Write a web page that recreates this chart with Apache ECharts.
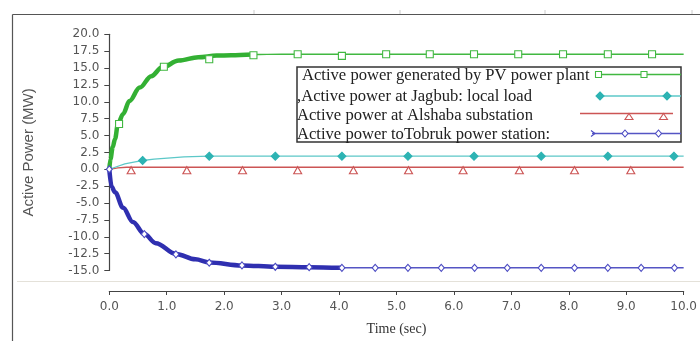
<!DOCTYPE html>
<html><head><meta charset="utf-8">
<script src="https://cdn.jsdelivr.net/npm/echarts@6/dist/echarts.min.js"></script>
<style>html,body{margin:0;padding:0;background:#fff}#c{width:700px;height:341px}</style>
</head><body><div id="c"></div>
<script>
// ---- data ----
const seriesNames = [
  'Active power generated by PV power plant',
  ',Active power at Jagbub: local load',
  'Active power at Alshaba substation',
  'Active power toTobruk power station:'
];
const xTicks = [0,1,2,3,4,5,6,7,8,9,10];
const yTicks = [-15,-12.5,-10,-7.5,-5,-2.5,0,2.5,5,7.5,10,12.5,15,17.5,20];

// PV power plant (curve + marker samples)
const tPV = [0, 0.02, 0.06, 0.10, 0.15, 0.24, 0.35, 0.53, 0.73, 0.92, 1.21, 1.55, 1.87, 2.12, 2.50, 3.00, 10.0];
const pPV = [0, 1.5, 3.3, 4.5, 6.7, 8.2, 10.1, 12.1, 13.8, 15.1, 16.1, 16.6, 16.85, 16.9, 17.0, 17.05, 17.05];
const tPVm = [0.17, 0.95, 1.74, 2.51, 3.28, 4.05, 4.82, 5.58, 6.35, 7.12, 7.90, 8.68, 9.45];
const pPVm = [6.7, 15.2, 16.3, 16.9, 17.05, 16.8, 17.05, 17.05, 17.05, 17.05, 17.05, 17.05, 17.05];

// Jagbub local load
const tJ = [0, 0.10, 0.27, 0.45, 0.58, 0.78, 1.07, 1.30, 1.74, 10.0];
const pJ = [0, 0.3, 0.8, 1.1, 1.3, 1.5, 1.7, 1.85, 1.94, 1.94];
const tJm = [0.58, 1.74, 2.89, 4.05, 5.20, 6.35, 7.52, 8.68, 9.83];
const pJm = [1.3, 1.94, 1.94, 1.94, 1.94, 1.94, 1.94, 1.94, 1.94];

// Alshaba substation
const tA = [0, 0.15, 0.30, 10.0];
const pA = [0, 0.2, 0.3, 0.3];
const tAm = [0.38, 1.35, 2.32, 3.28, 4.25, 5.21, 6.16, 7.14, 8.10, 9.08];
const pAm = [0.3, 0.3, 0.3, 0.3, 0.3, 0.3, 0.3, 0.3, 0.3, 0.3];

// Tobruk power station
const tT = [0, 0.04, 0.10, 0.24, 0.41, 0.61, 0.81, 1.16, 1.50, 1.74, 2.31, 2.89, 3.48, 4.05, 10.0];
const pT = [0, -2.6, -3.4, -5.7, -7.8, -9.6, -10.95, -12.55, -13.35, -13.8, -14.25, -14.45, -14.5, -14.6, -14.6];
const tTm = [0, 0.61, 1.16, 1.74, 2.31, 2.89, 3.48, 4.05, 4.63, 5.20, 5.78, 6.36, 6.93, 7.52, 8.10, 8.68, 9.26, 9.84];
const pTm = [0, -9.6, -12.6, -13.85, -14.25, -14.45, -14.5, -14.6, -14.6, -14.6, -14.6, -14.6, -14.6, -14.6, -14.6, -14.6, -14.6, -14.6];

// ---- build ----
const zip = (t, v) => t.map((x, i) => [x, v[i]]);
const upTo = (t, v, lim) => zip(t, v).filter(p => p[0] <= lim);

const C = {
  green: '#41b841', greenThick: '#33b033',
  cyan: '#5cc8c8', cyanMark: '#2db3b3',
  red: '#cc5555',
  blue: '#5555c4', blueThick: '#2f2fb0', blueMark: '#4a4ac2'
};

function lineS(data, color, width, smooth) {
  return { type: 'line', data, showSymbol: false, symbol: 'none', smooth: smooth ? 0.35 : false,
    smoothMonotone: 'x', lineStyle: { color, width }, clip: false, z: 2, silent: true };
}
function markS(data, symbol, size, fill, stroke, offset) {
  return { type: 'scatter', data, symbol, symbolSize: size, symbolOffset: offset || [0, 0],
    itemStyle: { color: fill, borderColor: stroke, borderWidth: 1.1, opacity: 1 }, clip: false, z: 4, silent: true };
}

const series = [
  lineS(zip(tA, pA), C.red, 1.3, false),
  lineS(zip(tJ, pJ), C.cyan, 1.3, false),
  lineS(zip(tPV, pPV), C.green, 1.4, true),
  lineS(upTo(tPV, pPV, 2.6), C.greenThick, 4.5, true),
  lineS(zip(tT, pT), C.blue, 1.4, true),
  lineS(upTo(tT, pT, 4.1), C.blueThick, 4.5, true),
  markS(zip(tAm, pAm), 'triangle', [8, 7], '#fff', C.red, [0, 3]),
  markS(zip(tJm, pJm), 'diamond', [8, 8], C.cyanMark, C.cyanMark),
  markS(zip(tPVm, pPVm), 'rect', [7, 7], '#fff', C.green),
  markS(zip(tTm, pTm), 'diamond', [6, 7], '#fff', C.blueMark)
];

// legend drawn as graphic (text + line samples)
const LX = 297, LY = 67, LW = 384, LH = 75;
const rows = [75, 96, 115, 133.5];
const textX = [302, 297, 297, 297];
const font = '16.6px "Liberation Serif", "Times New Roman", serif';
const g = [];
g.push({ type: 'rect', shape: { x: LX, y: LY, width: LW, height: LH }, style: { fill: '#fff', stroke: '#333', lineWidth: 1.5 }, z: 10 });
seriesNames.forEach((n, i) => {
  g.push({ type: 'text', style: { text: n, x: textX[i], y: rows[i] + 1, font, fill: '#222', verticalAlign: 'middle', align: 'left' }, z: 11 });
});
function sq(cx, cy, s, stroke) { return { type: 'rect', shape: { x: cx - s / 2, y: cy - s / 2, width: s, height: s }, style: { fill: '#fff', stroke, lineWidth: 1.1 }, z: 12 }; }
function dia(cx, cy, w, h, fill, stroke) { return { type: 'polygon', shape: { points: [[cx, cy - h / 2], [cx + w / 2, cy], [cx, cy + h / 2], [cx - w / 2, cy]] }, style: { fill, stroke, lineWidth: 1.1 }, z: 12 }; }
function tri(cx, cy, w, h, stroke) { return { type: 'polygon', shape: { points: [[cx, cy - h / 2], [cx + w / 2, cy + h / 2], [cx - w / 2, cy + h / 2]] }, style: { fill: '#fff', stroke, lineWidth: 1.1 }, z: 12 }; }
function ln(x1, x2, y, stroke) { return { type: 'line', shape: { x1, y1: y, x2, y2: y }, style: { stroke, lineWidth: 1.3 }, z: 11 }; }
// PV
g.push(ln(596, 681, 74.5, C.green), sq(598.5, 74.5, 6, C.green), sq(644, 74.5, 6, C.green));
// Jagbub
g.push(ln(600, 681, 96, C.cyan), dia(600, 96, 8, 8, C.cyanMark, C.cyanMark), dia(667, 96, 8, 8, C.cyanMark, C.cyanMark));
// Alshaba
g.push(ln(580, 673, 113.5, C.red), tri(629, 116.5, 8, 6, C.red), tri(663.5, 116.5, 8, 6, C.red));
// Tobruk
g.push(ln(592, 681, 133.5, C.blue),
  { type: 'polyline', shape: { points: [[591, 130.5], [595, 133.5], [591, 136.5]] }, style: { stroke: C.blueMark, lineWidth: 1.1, fill: null }, z: 12 },
  dia(625, 133.5, 6, 7, '#fff', C.blueMark), dia(658.5, 133.5, 6, 7, '#fff', C.blueMark));

// outer frame
g.push({ type: 'line', shape: { x1: 12.5, y1: 14.5, x2: 12.5, y2: 341 }, style: { stroke: '#555', lineWidth: 1.2 }, z: 1 });
g.push({ type: 'line', shape: { x1: 12.5, y1: 14.5, x2: 700, y2: 14.5 }, style: { stroke: '#555', lineWidth: 1.2 }, z: 1 });
[254, 400, 545, 692].forEach(x => g.push({ type: 'line', shape: { x1: x, y1: 10, x2: x, y2: 14 }, style: { stroke: '#ccc', lineWidth: 1 }, z: 1 }));
g.push({ type: 'line', shape: { x1: 17, y1: 281.5, x2: 700, y2: 281.5 }, style: { stroke: '#e4e1d9', lineWidth: 1.2 }, z: 1 });

const chart = echarts.init(document.getElementById('c'), null, { renderer: 'canvas' });
chart.setOption({
  animation: false,
  backgroundColor: '#fff',
  grid: { left: 109.3, right: 7, top: 34.3, bottom: 68.3, containLabel: false },
  xAxis: {
    type: 'value', min: xTicks[0], max: xTicks[xTicks.length - 1], interval: 1, offset: 20.5,
    axisLine: { show: true, onZero: false, lineStyle: { color: '#444', width: 1.2 } },
    axisTick: { show: true, length: 4, lineStyle: { color: '#444' } },
    axisLabel: { margin: 10, color: '#555', fontSize: 12, fontFamily: 'DejaVu Sans', formatter: v => v.toFixed(1) },
    splitLine: { show: false },
    name: 'Time (sec)', nameLocation: 'middle', nameGap: 31,
    nameTextStyle: { color: '#333', fontSize: 14, fontFamily: '"Liberation Serif", serif' }
  },
  yAxis: {
    type: 'value', min: yTicks[0], max: yTicks[yTicks.length - 1], interval: 2.5,
    axisLine: { show: true, onZero: false, lineStyle: { color: '#444', width: 1.2 } },
    axisTick: { show: true, length: 5, lineStyle: { color: '#444' } },
    axisLabel: { margin: 10, color: '#555', fontSize: 12, fontFamily: 'DejaVu Sans', formatter: v => v.toFixed(1) },
    splitLine: { show: false },
    name: 'Active Power (MW)', nameLocation: 'middle', nameGap: 73, nameRotate: 90,
    nameTextStyle: { color: '#555', fontSize: 15, fontFamily: '"Liberation Sans", Arial, sans-serif' }
  },
  series,
  graphic: g
});
</script></body></html>
